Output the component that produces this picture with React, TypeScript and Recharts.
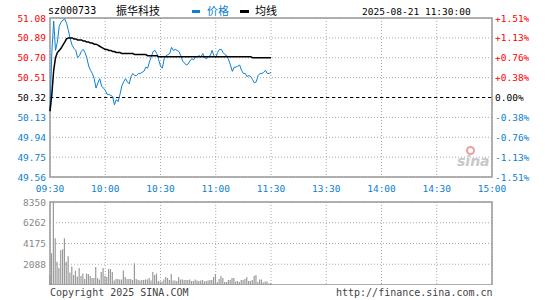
import React from 'react'
import {
  ComposedChart, Line, Bar, XAxis, YAxis, CartesianGrid, ReferenceLine, ReferenceArea,
} from 'recharts'

// minutes after 09:30 for axis ticks, and their labels
const timeTicks = [0, 30, 60, 90, 120, 150, 180, 210, 240]
const timeLabels = ['09:30', '10:00', '10:30', '11:00', '11:30', '13:30', '14:00', '14:30', '15:00']

const prevClose = 50.32
const priceTicks = [49.56, 49.75, 49.94, 50.13, 50.32, 50.51, 50.70, 50.89, 51.08]
const pctLabels = ['-1.51%', '-1.13%', '-0.76%', '-0.38%', '0.00%', '+0.38%', '+0.76%', '+1.13%', '+1.51%']
const volTicks = [0, 2088, 4175, 6262, 8350]

// one value per minute, 09:30 .. 11:30
const prices = [
  50.19, 50.75, 51.05, 50.77, 50.85, 51.00, 51.04, 51.06, 51.07, 51.03,
  50.96, 50.88, 50.82, 50.79, 50.77, 50.70, 50.72, 50.76, 50.78, 50.75,
  50.70, 50.62, 50.58, 50.55, 50.50, 50.41, 50.46, 50.50, 50.43, 50.41,
  50.39, 50.35, 50.35, 50.34, 50.33, 50.25, 50.30, 50.28, 50.35, 50.43,
  50.47, 50.50, 50.47, 50.45, 50.52, 50.55, 50.53, 50.53, 50.55, 50.55,
  50.56, 50.57, 50.61, 50.60, 50.66, 50.71, 50.76, 50.77, 50.74, 50.68,
  50.62, 50.60, 50.69, 50.72, 50.73, 50.74, 50.80, 50.77, 50.78, 50.77,
  50.76, 50.72, 50.67, 50.65, 50.63, 50.64, 50.67, 50.69, 50.68, 50.71,
  50.71, 50.72, 50.71, 50.74, 50.70, 50.69, 50.71, 50.72, 50.77, 50.72,
  50.70, 50.75, 50.78, 50.78, 50.75, 50.73, 50.72, 50.68, 50.63, 50.57,
  50.61, 50.61, 50.62, 50.63, 50.58, 50.55, 50.55, 50.52, 50.53, 50.52,
  50.49, 50.46, 50.47, 50.53, 50.55, 50.55, 50.56, 50.58, 50.55, 50.55,
  50.56,
]

const avgPrices = [
  50.19, 50.35, 50.58, 50.70, 50.75, 50.77, 50.79, 50.82, 50.85, 50.88,
  50.89, 50.89, 50.89, 50.88, 50.88, 50.87, 50.87, 50.87, 50.86, 50.86,
  50.85, 50.85, 50.84, 50.84, 50.83, 50.83, 50.82, 50.81, 50.80, 50.79,
  50.78, 50.78, 50.77, 50.77, 50.76, 50.76, 50.75, 50.75, 50.75, 50.74,
  50.74, 50.74, 50.74, 50.74, 50.74, 50.74, 50.73, 50.73, 50.73, 50.73,
  50.73, 50.73, 50.73, 50.72, 50.72, 50.72, 50.72, 50.72, 50.72, 50.71,
  50.71, 50.71, 50.71, 50.71, 50.71, 50.71, 50.71, 50.71, 50.71, 50.71,
  50.71, 50.71, 50.71, 50.71, 50.71, 50.71, 50.71, 50.71, 50.71, 50.71,
  50.71, 50.71, 50.71, 50.71, 50.71, 50.71, 50.71, 50.71, 50.71, 50.71,
  50.71, 50.71, 50.71, 50.71, 50.71, 50.71, 50.71, 50.71, 50.71, 50.71,
  50.71, 50.71, 50.71, 50.71, 50.71, 50.71, 50.71, 50.71, 50.71, 50.71,
  50.70, 50.70, 50.70, 50.70, 50.70, 50.70, 50.70, 50.70, 50.70, 50.70,
  50.70,
]

const volumes = [
  1000, 3200, 8350, 4700, 2350, 1700, 3500, 3600, 4700, 2350,
  2900, 1250, 1850, 1000, 1450, 850, 1700, 900, 1150, 600,
  1150, 1100, 900, 700, 700, 1800, 700, 550, 1300, 1700,
  900, 800, 1600, 1600, 1300, 450, 600, 600, 550, 550,
  1450, 800, 600, 600, 600, 500, 2200, 600, 500, 450,
  500, 500, 550, 550, 700, 450, 1300, 1000, 1150, 400,
  350, 350, 550, 800, 700, 500, 1100, 450, 450, 400,
  800, 550, 550, 500, 500, 500, 550, 400, 400, 550,
  450, 400, 450, 500, 350, 400, 450, 500, 500, 800,
  1100, 300, 600, 900, 700, 300, 300, 500, 500, 700,
  700, 350, 400, 300, 500, 500, 600, 800, 400, 400,
  500, 900, 1000, 300, 550, 550, 250, 350, 350, 150,
  200,
]

const priceData = prices.map((p, i) => ({ t: i, price: p, avg: avgPrices[i] }))
const volData = volumes.map((v, i) => ({ t: i, vol: v }))

const BLUE = '#0c7fd2'
const RED = '#ff0000'
const GRID = '#aaaaaa'
const FRAME = '#999999'
const MONO = '"DejaVu Sans Mono", "Liberation Mono", monospace'
const CJK = '"Noto Sans CJK SC", sans-serif'

const tickColor = (v: number) => (v > prevClose + 0.001 ? RED : v < prevClose - 0.001 ? BLUE : '#000')

const LeftPriceTick = (props: any) => {
  const { x, y, payload } = props
  return (
    <text x={x - 4} y={y} textAnchor="end" dominantBaseline="central" fontFamily={MONO} fontSize={9.5} fill={tickColor(payload.value)}>
      {payload.value.toFixed(2)}
    </text>
  )
}

const RightPctTick = (props: any) => {
  const { x, y, payload } = props
  const idx = priceTicks.findIndex((t) => Math.abs(t - payload.value) < 0.001)
  return (
    <text x={x + 3} y={y} textAnchor="start" dominantBaseline="central" fontFamily={MONO} fontSize={9.5} fill={tickColor(payload.value)}>
      {pctLabels[idx]}
    </text>
  )
}

const TimeTick = (props: any) => {
  const { x, y, payload } = props
  const idx = timeTicks.indexOf(payload.value)
  return (
    <text x={x} y={y + 11} textAnchor="middle" dominantBaseline="central" fontFamily={MONO} fontSize={9.5} fill={BLUE}>
      {timeLabels[idx]}
    </text>
  )
}

const VolTick = (props: any) => {
  const { x, y, payload } = props
  if (payload.value === 0) return null
  return (
    <text x={x - 4} y={y} textAnchor="end" dominantBaseline="central" fontFamily={MONO} fontSize={9.5} fill="#888">
      {payload.value}
    </text>
  )
}

const abs = (left: number, top: number, extra: React.CSSProperties = {}): React.CSSProperties => ({
  position: 'absolute', left, top, lineHeight: 1, whiteSpace: 'nowrap', ...extra,
})

export default function App() {
  return (
    <div style={{ position: 'relative', width: 545, height: 300, background: '#fff', overflow: 'hidden' }}>
      <style>{'body{margin:0}'}</style>

      {/* header */}
      <div style={abs(48, 6, { fontFamily: MONO, fontSize: 10, color: '#000' })}>sz000733</div>
      <div style={abs(116, 5, { fontFamily: CJK, fontSize: 11, color: '#000' })}>振华科技</div>
      <div style={abs(192, 9.5, { width: 8, height: 3, background: BLUE })} />
      <div style={abs(207, 5, { fontFamily: CJK, fontSize: 11, color: BLUE })}>价格</div>
      <div style={abs(240, 9.5, { width: 9, height: 3, background: '#000' })} />
      <div style={abs(255, 5, { fontFamily: CJK, fontSize: 11, color: '#000' })}>均线</div>
      <div style={abs(362, 6.5, { fontFamily: MONO, fontSize: 9.5, color: '#000' })}>2025-08-21 11:30:00</div>

      <div style={{ position: 'absolute', left: 0, top: 0 }}>
        <ComposedChart width={545} height={200} data={priceData} margin={{ top: 18, right: 0, left: 0, bottom: 0 }}>
          <CartesianGrid yAxisId="p" stroke={GRID} strokeDasharray="1 2" />
          <XAxis dataKey="t" type="number" domain={[0, 240]} ticks={timeTicks} height={23}
            axisLine={false} tickLine={false} tickSize={0} tickMargin={0} tick={<TimeTick />} interval={0} />
          <YAxis yAxisId="p" domain={[49.56, 51.08]} ticks={priceTicks} width={50} allowDataOverflow
            axisLine={false} tickLine={false} tickSize={0} tickMargin={0} tick={<LeftPriceTick />} interval={0} />
          <YAxis yAxisId="r" orientation="right" domain={[49.56, 51.08]} ticks={priceTicks} width={53} allowDataOverflow
            axisLine={false} tickLine={false} tickSize={0} tickMargin={0} tick={<RightPctTick />} interval={0} />
          <ReferenceLine yAxisId="p" y={prevClose} stroke="#000" strokeDasharray="3 3" />
          <Line yAxisId="p" type="linear" dataKey="price" stroke={BLUE} strokeWidth={1} dot={false} isAnimationActive={false} />
          <Line yAxisId="p" type="linear" dataKey="avg" stroke="#000" strokeWidth={1.5} dot={false} isAnimationActive={false} />
          <ReferenceArea yAxisId="p" x1={0} x2={240} y1={49.56} y2={51.08} fill="none" stroke={FRAME} strokeWidth={1.5} />
        </ComposedChart>
      </div>

      {/* sina watermark */}
      <div style={abs(466, 146, { width: 9, height: 9, borderRadius: 5, border: '2px solid #e8a0a0', boxSizing: 'border-box' })} />
      <div style={abs(457, 154, { fontFamily: '"DejaVu Sans", sans-serif', fontSize: 14, fontWeight: 'bold', fontStyle: 'italic', color: '#c8c8c8' })}>sina</div>

      <div style={{ position: 'absolute', left: 0, top: 195 }}>
        <ComposedChart width={545} height={90} data={volData} margin={{ top: 7, right: 53, left: 0, bottom: 0 }}>
          <CartesianGrid stroke={GRID} strokeDasharray="1 2" />
          <XAxis dataKey="t" type="number" domain={[0, 240]} ticks={timeTicks} hide />
          <YAxis domain={[0, 8350]} ticks={volTicks} width={50} allowDataOverflow
            axisLine={false} tickLine={false} tickSize={0} tickMargin={0} tick={<VolTick />} interval={0} />
          <Bar dataKey="vol" fill="#999" barSize={1.2} isAnimationActive={false} />
          <ReferenceArea x1={0} x2={240} y1={0} y2={8350} fill="none" stroke={FRAME} strokeWidth={1.5} />
        </ComposedChart>
      </div>

      {/* footer */}
      <div style={abs(50, 288, { fontFamily: MONO, fontSize: 10, color: '#444' })}>Copyright 2025 SINA.COM</div>
      <div style={abs(336, 288, { fontFamily: MONO, fontSize: 10, color: '#444' })}>http://finance.sina.com.cn</div>
    </div>
  )
}
